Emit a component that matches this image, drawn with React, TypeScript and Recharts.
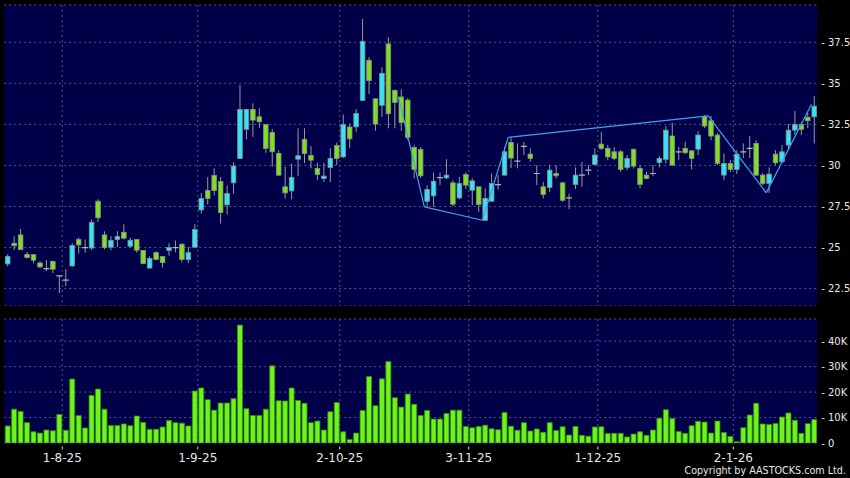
import React from "react";
import { ComposedChart, Bar, XAxis, YAxis, CartesianGrid, ReferenceLine } from "recharts";

const opens = [
  24.0, 25.26, 25.77, 24.57, 24.57, 24.06, 23.72, 24.15, 23.27, 23.02,
  23.88, 25.49, 25.0, 24.97, 27.82, 25.77, 25.02, 25.49, 25.93, 25.08,
  25.49, 24.82, 23.75, 24.69, 24.45, 24.82, 25.0, 25.2, 24.27, 25.02,
  27.29, 28.47, 29.39, 29.02, 27.6, 28.94, 30.43, 32.2, 33.41, 32.96,
  32.5, 32.01, 30.73, 28.7, 28.45, 30.38, 31.59, 30.61, 29.82, 29.21,
  29.88, 31.22, 30.52, 32.34, 32.35, 33.96, 36.4, 34.06, 33.66, 37.4,
  34.57, 34.17, 33.98, 31.1, 30.98, 27.82, 28.15, 29.26, 29.24, 28.94,
  28.02, 29.45, 28.49, 28.7, 26.66, 27.82, 28.83, 29.41, 31.4, 30.26,
  31.16, 30.69, 29.51, 28.7, 28.66, 29.51, 28.94, 28.02, 28.84, 29.41,
  29.71, 30.06, 31.3, 31.04, 30.83, 30.83, 29.88, 30.98, 29.82, 29.41,
  29.51, 30.18, 30.37, 31.79, 30.83, 31.04, 30.89, 30.99, 32.96, 32.72,
  31.85, 29.41, 30.12, 29.76, 30.83, 31.04, 31.34, 29.41, 28.9, 30.69,
  30.22, 31.24, 32.15, 32.5, 32.93, 32.96,
];
const highs = [
  24.59, 25.69, 26.13, 24.73, 24.59, 24.16, 24.23, 24.21, 23.31, 23.68,
  25.26, 25.61, 25.49, 26.71, 27.94, 25.99, 25.69, 26.0, 26.42, 25.59,
  25.52, 24.85, 24.47, 24.77, 24.47, 25.26, 25.43, 25.26, 25.04, 26.42,
  28.33, 29.3, 29.82, 29.3, 28.78, 30.2, 34.9, 33.45, 33.78, 33.49,
  32.52, 32.21, 30.93, 29.92, 30.12, 32.26, 32.26, 31.18, 30.16, 30.16,
  31.05, 31.4, 33.11, 32.56, 33.43, 38.92, 36.59, 34.08, 35.98, 37.81,
  34.63, 34.63, 34.09, 31.24, 31.12, 28.8, 29.57, 29.57, 30.38, 29.1,
  29.3, 29.57, 29.21, 28.72, 28.6, 29.51, 29.41, 31.13, 31.71, 31.34,
  31.44, 31.04, 30.02, 29.0, 30.02, 30.02, 29.0, 28.29, 29.88, 30.22,
  30.02, 31.04, 32.05, 31.24, 31.13, 30.93, 30.63, 31.04, 30.02, 29.61,
  30.02, 30.57, 32.4, 32.6, 31.13, 31.44, 30.93, 32.09, 33.07, 33.01,
  31.97, 30.73, 30.32, 30.93, 31.34, 31.79, 31.54, 29.53, 29.88, 30.93,
  31.24, 32.52, 33.31, 32.62, 33.21, 34.23,
];
const lows = [
  23.86, 24.84, 24.84, 24.33, 24.04, 23.74, 23.57, 23.45, 22.23, 22.66,
  23.85, 24.63, 24.69, 24.84, 26.56, 24.9, 24.84, 25.04, 25.49, 25.0,
  24.69, 23.98, 23.72, 24.23, 23.78, 24.51, 24.71, 24.1, 24.06, 25.0,
  27.07, 27.62, 28.17, 26.46, 27.01, 28.29, 30.4, 31.59, 31.74, 32.29,
  30.77, 29.92, 29.35, 27.99, 27.94, 29.35, 30.14, 29.82, 29.1, 28.99,
  28.99, 30.02, 30.45, 31.04, 32.05, 33.94, 34.35, 32.11, 32.96, 32.26,
  32.26, 32.11, 31.54, 29.21, 29.23, 27.48, 27.48, 28.8, 29.17, 27.52,
  27.94, 28.56, 27.58, 27.17, 26.64, 27.8, 28.52, 29.39, 29.84, 29.82,
  30.63, 30.22, 28.8, 27.99, 28.39, 29.21, 27.78, 27.34, 28.56, 28.7,
  29.41, 30.02, 30.93, 30.32, 30.32, 29.61, 29.71, 29.82, 28.6, 29.15,
  29.35, 29.88, 30.12, 29.96, 30.32, 30.69, 29.76, 30.63, 32.27, 31.54,
  30.02, 29.1, 29.59, 29.47, 30.45, 30.45, 29.35, 28.8, 28.33, 30.02,
  30.14, 30.93, 31.85, 31.85, 32.27, 31.34,
];
const closes = [
  24.45, 25.11, 24.88, 24.39, 24.23, 23.82, 23.72, 23.68, 23.27, 23.02,
  25.12, 25.16, 25.0, 26.52, 26.81, 25.0, 25.43, 25.67, 25.57, 25.44,
  24.84, 24.02, 24.33, 24.27, 24.08, 25.0, 25.0, 24.27, 24.69, 26.1,
  27.99, 27.99, 28.47, 27.13, 28.29, 29.96, 33.41, 33.41, 32.76, 32.66,
  31.04, 30.83, 29.41, 28.33, 29.27, 30.59, 30.73, 30.32, 29.45, 29.35,
  30.43, 30.43, 32.5, 31.62, 33.17, 37.56, 35.16, 32.52, 35.61, 33.15,
  33.84, 32.62, 31.71, 29.76, 29.37, 28.54, 29.04, 29.26, 29.41, 27.64,
  28.9, 28.8, 29.06, 27.62, 27.99, 28.9, 28.83, 30.83, 30.45, 30.26,
  31.16, 30.43, 29.51, 28.23, 29.71, 29.37, 27.88, 28.02, 29.41, 29.41,
  29.71, 30.63, 31.04, 30.52, 30.43, 29.76, 30.43, 29.96, 28.84, 29.21,
  29.51, 30.43, 32.15, 30.02, 30.83, 30.77, 30.43, 31.85, 32.4, 31.79,
  30.12, 30.12, 29.76, 30.69, 30.83, 31.04, 29.41, 28.9, 29.47, 30.16,
  30.83, 32.15, 32.5, 32.2, 32.72, 33.61,
];
const volumes = [
  6700, 13300, 12400, 8000, 4400, 3900, 5100, 4800, 11200, 5000,
  25100, 10800, 5900, 18700, 21200, 13300, 6900, 6900, 7500, 6800,
  10600, 8100, 5400, 5400, 6300, 8800, 8000, 7800, 6700, 20400,
  21600, 17000, 12900, 15700, 15700, 17400, 46300, 13500, 10800, 10800,
  13300, 30300, 16600, 16500, 21600, 16700, 15600, 8000, 8600, 5100,
  12300, 15900, 4400, 1400, 3900, 12800, 26100, 14600, 25200, 32000,
  17800, 14100, 19200, 15200, 10800, 12800, 9400, 9400, 11600, 12900,
  12900, 6500, 6000, 6500, 7000, 5600, 5200, 12000, 6600, 5000,
  8000, 4700, 5500, 4200, 8000, 4900, 6400, 3100, 6500, 3000,
  2700, 6300, 6400, 3700, 3800, 3800, 2400, 3500, 4400, 3000,
  5100, 9700, 13100, 9600, 4500, 3800, 6800, 8500, 8200, 3900,
  8600, 4100, 2600, 500, 6000, 11000, 15600, 7500, 7300, 7700,
  10200, 11800, 8900, 3800, 7600, 9200,
];

const monthStartIdx = [9, 30, 52, 72, 92, 113];
const monthLabels = ["1-8-25", "1-9-25", "2-10-25", "3-11-25", "1-12-25", "2-1-26"];
const priceTicks = [22.5, 25, 27.5, 30, 32.5, 35, 37.5];
const volumeTicks = [0, 10000, 20000, 30000, 40000];
const trendIdx = [61, 65, 74, 78, 109, 118, 125];
const trendVals = [34.17, 27.48, 26.66, 31.71, 33.02, 28.33, 33.72];

const N = opens.length;
const priceData = opens.map((o, i) => ({ i, o, h: highs[i], l: lows[i], c: closes[i] }));
const volumeData = volumes.map((v, i) => ({ i, v }));
// trend line is anchored on the left edge of each candle body
const trendPts = trendIdx.map((i, k) => ({ x: i - 0.39, y: trendVals[k] }));

const NAVY = "#000048";
const GRID = "#55558a";
const TEXT = "#e6e6e6";
const FONT = "DejaVu Sans";

const Candle = (props: any) => {
  const { x, y, width, height, payload } = props;
  if (x == null || y == null || !payload) return null;
  const { o, h, l, c } = payload;
  const top = Math.min(y, y + height);
  const bottom = Math.max(y, y + height);
  const ppu = h > l ? (bottom - top) / (h - l) : 0;
  const yv = (v: number) => top + (h - v) * ppu;
  const cx = x + width / 2;
  const wick = <line x1={cx} x2={cx} y1={top} y2={bottom} stroke="#9a9a9a" strokeWidth={1} />;
  if (o === c) {
    return (
      <g>
        {wick}
        <line x1={cx - 3} x2={cx + 3} y1={yv(o)} y2={yv(o)} stroke="#b4b4b4" strokeWidth={1.2} />
      </g>
    );
  }
  const up = c > o;
  const bTop = yv(Math.max(o, c));
  const bBot = yv(Math.min(o, c));
  return (
    <g>
      {wick}
      <rect
        x={cx - 2.3}
        y={bTop}
        width={4.6}
        height={Math.max(1, bBot - bTop)}
        fill={up ? "#33e4f4" : "#7ee01e"}
        stroke="#8c8c8c"
        strokeWidth={0.8}
      />
    </g>
  );
};

const XTick = (props: any) => {
  const { x, y, payload } = props;
  const k = monthStartIdx.indexOf(Math.round(payload.value + 0.5));
  return (
    <g>
      <line x1={x} x2={x} y1={y + 3.5} y2={y + 6.5} stroke="#dddddd" strokeWidth={1} />
      <text x={x} y={y + 19.3} textAnchor="middle" fill={TEXT} fontSize={12} fontFamily={FONT}>
        {monthLabels[k]}
      </text>
    </g>
  );
};

const makeYTick = (fmt: (v: number) => string) => (props: any) => {
  const { x, y, payload } = props;
  return (
    <text x={x} y={y + 3.6} textAnchor="start" fill={TEXT} fontSize={10} fontFamily={FONT}>
      {`- ${fmt(payload.value)}`}
    </text>
  );
};
const PriceTick = makeYTick((v) => String(v));
const VolTick = makeYTick((v) => (v === 0 ? "0" : v / 1000 + "K"));

const vGen = (p: any) => {
  const o = p && p.offset;
  if (!o) return [];
  return monthStartIdx.map((i) => o.left + (o.width * i) / N);
};

export default function App() {
  return (
    <div
      style={{
        position: "absolute",
        left: 0,
        top: 0,
        width: 850,
        height: 478,
        background: "#000",
        overflow: "hidden",
      }}
    >
      <div style={{ position: "absolute", left: 0, top: 0 }}>
        <ComposedChart
          width={850}
          height={306}
          data={priceData}
          margin={{ top: 5, right: 0, bottom: 0, left: 4.2 }}
        >
          <CartesianGrid
            fill={NAVY}
            stroke={GRID}
            strokeDasharray="2 3"
            verticalCoordinatesGenerator={vGen}
          />
          <XAxis type="number" dataKey="i" domain={[-0.5, N - 0.5]} hide allowDataOverflow />
          <YAxis
            orientation="right"
            width={32.8}
            domain={[21.44, 39.77]}
            ticks={priceTicks}
            interval={0}
            allowDataOverflow
            axisLine={false}
            tickLine={false}
            tickSize={0}
            tickMargin={4}
            tick={<PriceTick />}
          />
          <Bar
            dataKey={(d: any) => [d.l, d.h]}
            barSize={5}
            shape={<Candle />}
            isAnimationActive={false}
          />
          {trendPts.slice(1).map((p, k) => (
            <ReferenceLine
              key={k}
              segment={[trendPts[k], p]}
              stroke="#3ea2ea"
              strokeWidth={1.2}
            />
          ))}
        </ComposedChart>
      </div>
      <div style={{ position: "absolute", left: 0, top: 310 }}>
        <ComposedChart
          width={850}
          height={168}
          data={volumeData}
          margin={{ top: 9, right: 0, bottom: 0, left: 4.2 }}
        >
          <CartesianGrid
            fill={NAVY}
            stroke={GRID}
            strokeDasharray="2 3"
            verticalCoordinatesGenerator={vGen}
          />
          <XAxis
            type="number"
            dataKey="i"
            domain={[-0.5, N - 0.5]}
            allowDataOverflow
            ticks={monthStartIdx.map((i) => i - 0.5)}
            interval={0}
            height={35}
            axisLine={false}
            tickLine={false}
            tickSize={0}
            tickMargin={0}
            tick={<XTick />}
          />
          <YAxis
            orientation="right"
            width={32.8}
            domain={[0, 48700]}
            ticks={volumeTicks}
            interval={0}
            allowDataOverflow
            axisLine={false}
            tickLine={false}
            tickSize={0}
            tickMargin={4}
            tick={<VolTick />}
          />
          <Bar
            dataKey="v"
            barSize={5}
            fill="#6cf51a"
            stroke="#3a8a12"
            strokeWidth={0.8}
            isAnimationActive={false}
          />
        </ComposedChart>
      </div>
      <svg
        width={850}
        height={478}
        style={{ position: "absolute", left: 0, top: 0, pointerEvents: "none" }}
      >
        <text x={846} y={474} textAnchor="end" fill={TEXT} fontSize={9.6} fontFamily={FONT}>
          Copyright by AASTOCKS.com Ltd.
        </text>
      </svg>
    </div>
  );
}
